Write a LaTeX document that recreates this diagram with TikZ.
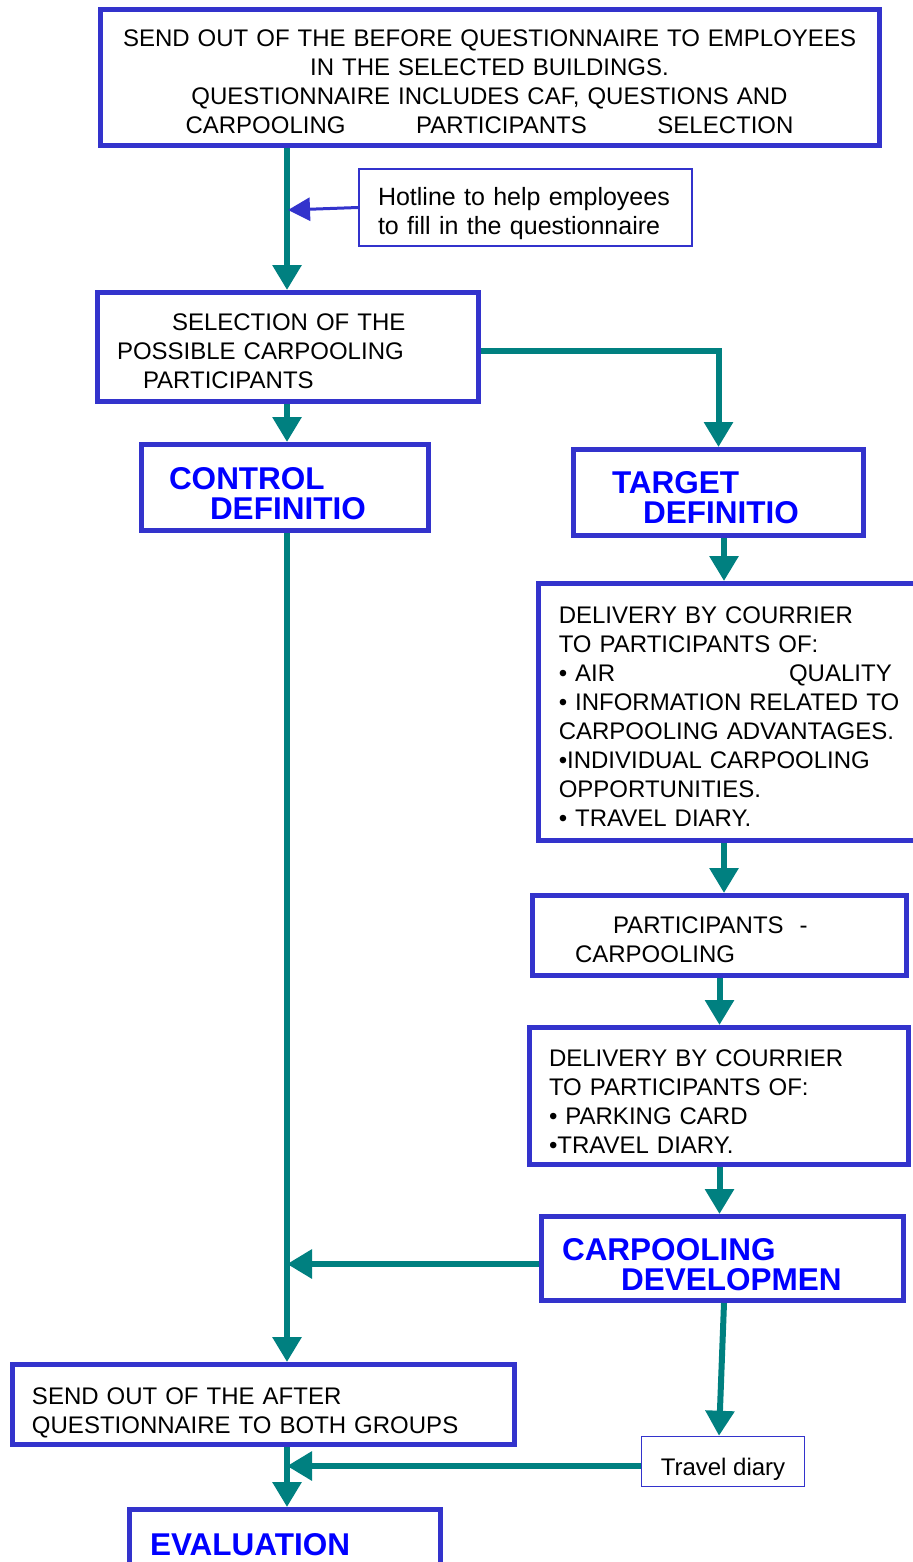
\documentclass[tikz,border=0pt]{standalone}
\usepackage{fontspec}
\setmainfont{Liberation Sans}
\usetikzlibrary{arrows.meta}

\begin{document}
\begin{tikzpicture}[x=0.5pt, y=-0.5pt,
    box/.style={draw=borderColour, line width=2.5pt, fill=white, inner ysep=0pt,
        font=\fontsize{12}{14.5}\selectfont, align=left},
    thinbox/.style={box, line width=0.75pt},
    title/.style={box, font=\fontsize{15.75}{15}\selectfont\bfseries, text=titleColour},
    push/.style={execute at begin node={\rule{0pt}{\dimexpr\fontcharht\font`H+#1\relax}}},
    flow/.style={draw=flowColour, line width=3pt, -{Triangle[width=14pt,length=12.5pt]}},
    hint/.style={draw=borderColour, line width=1.5pt, -{Triangle[width=11.5pt,length=11pt]}}]

    \definecolor{borderColour}{HTML}{3333CC}
    \definecolor{flowColour}{HTML}{008080}
    \definecolor{titleColour}{HTML}{0000FF}

    % Page size
    \useasboundingbox (0,0) rectangle (913,1562);

    % Main trunk on the left
    \coordinate (trunk) at (287,0);

    % First questionnaire
    \node[box, align=center, push=4pt, minimum width=389.5pt, minimum height=68pt, text width=380pt]
        (before) at (489.5,78)
        {SEND OUT OF THE BEFORE QUESTIONNAIRE TO EMPLOYEES\\
         IN THE SELECTED BUILDINGS.\\
         QUESTIONNAIRE INCLUDES CAF, QUESTIONS AND\\
         \makebox[304pt]{CARPOOLING\hfill PARTICIPANTS\hfill SELECTION}};

    \node[thinbox, push=6.5pt, font=\fontsize{12.5}{14.5}\selectfont, minimum width=166.5pt,
        minimum height=38.5pt, inner xsep=9.5pt, text width=147.5pt] (hotline) at (525.5,207.5)
        {\mbox{Hotline to help employees}\\\mbox{to fill in the questionnaire}};

    \node[box, push=4pt, minimum width=190.5pt, minimum height=54.5pt, inner xsep=9.75pt, text width=171pt]
        (select) at (288,347)
        {\hspace*{27.5pt}SELECTION OF THE\\POSSIBLE CARPOOLING\\\hspace*{13pt}PARTICIPANTS};

    % The two groups
    \node[title, push=6.5pt, minimum width=143.5pt, minimum height=43pt, inner xsep=13.75pt, text width=116pt]
        (control) at (285,487.5) {CONTROL\\\hspace*{20.5pt}DEFINITIO};
    \node[title, push=5.5pt, minimum width=145pt, minimum height=43pt, inner xsep=19.25pt, text width=106.5pt]
        (target) at (718.5,492.5) {TARGET\\\hspace*{15.5pt}DEFINITIO};

    % Target group steps
    \node[box, push=5pt, minimum width=194.75pt, minimum height=128.5pt, inner xsep=10.25pt, text width=174.25pt]
        (deliv1) at (733,712)
        {DELIVERY BY COURRIER\\TO PARTICIPANTS OF:\\
         \makebox[166.5pt]{\textbullet{} AIR\hfill QUALITY}\\
         \textbullet{} INFORMATION RELATED TO\\CARPOOLING ADVANTAGES.\\
         \textbullet INDIVIDUAL CARPOOLING\\OPPORTUNITIES.\\
         \textbullet{} TRAVEL DIARY.};
    \node[box, push=4pt, minimum width=187pt, minimum height=40pt, inner xsep=21.25pt, text width=144.5pt]
        (partic) at (719.5,935.5) {\hspace*{19pt}PARTICIPANTS\ \ -\\CARPOOLING};
    \node[box, push=6pt, minimum width=189.5pt, minimum height=68.5pt, inner xsep=9.75pt, text width=170pt]
        (deliv2) at (719,1096)
        {DELIVERY BY COURRIER\\TO PARTICIPANTS OF:\\
         \textbullet{} PARKING CARD\\\textbullet TRAVEL DIARY.};
    \node[title, push=6.5pt, minimum width=181pt, minimum height=42pt, inner xsep=10.25pt, text width=160.5pt]
        (carpool) at (722.5,1258.5) {CARPOOLING\\\hspace*{29.5pt}DEVELOPMEN};
    \node[thinbox, minimum width=81.5pt, minimum height=25pt, align=center, text height=14pt, text depth=0pt]
        (travel) at (723,1461.5) {Travel diary};

    % Both groups again
    \node[box, push=8pt, minimum width=251pt, minimum height=40pt, inner xsep=9.75pt, text width=231.5pt]
        (after) at (263.5,1404.5)
        {SEND OUT OF THE AFTER\\QUESTIONNAIRE TO BOTH GROUPS};
    \node[title, push=2pt, minimum width=155.5pt, minimum height=33.5pt, inner xsep=10.25pt, text width=135pt]
        (eval) at (285,1543) {EVALUATION};

    % Connectors
    \coordinate (hotTip) at (288,210);
    \coordinate (rtrunk) at (724,0);
    \coordinate (selectOut) at ([yshift=-2pt]select.east);
    \coordinate (carpoolOut) at ([yshift=-2.75pt]carpool.west);
    \coordinate (travelOut) at ([yshift=-2.25pt]travel.west);
    \draw[flow] (trunk |- before.south) -- (trunk |- select.north);
    \draw[hint] (hotline.west) -- (hotTip);
    \draw[flow] (trunk |- select.south) -- (trunk |- control.north);
    \draw[flow] (selectOut) -| (target.north);
    \draw[flow] (trunk |- control.south) -- (trunk |- after.north);
    \draw[flow] (rtrunk |- target.south) -- (rtrunk |- deliv1.north);
    \draw[flow] (rtrunk |- deliv1.south) -- (rtrunk |- partic.north);
    \draw[flow] (partic.south) -- (partic.south |- deliv2.north);
    \draw[flow] (partic.south |- deliv2.south) -- (partic.south |- carpool.north);
    \draw[flow] (carpoolOut) -- (trunk |- carpoolOut);
    \draw[flow] (rtrunk |- carpool.south) -- ([xshift=-2pt]travel.north);
    \draw[flow] (travelOut) -- (trunk |- travelOut);
    \draw[flow] (trunk |- after.south) -- (trunk |- eval.north);

\end{tikzpicture}
\end{document}
